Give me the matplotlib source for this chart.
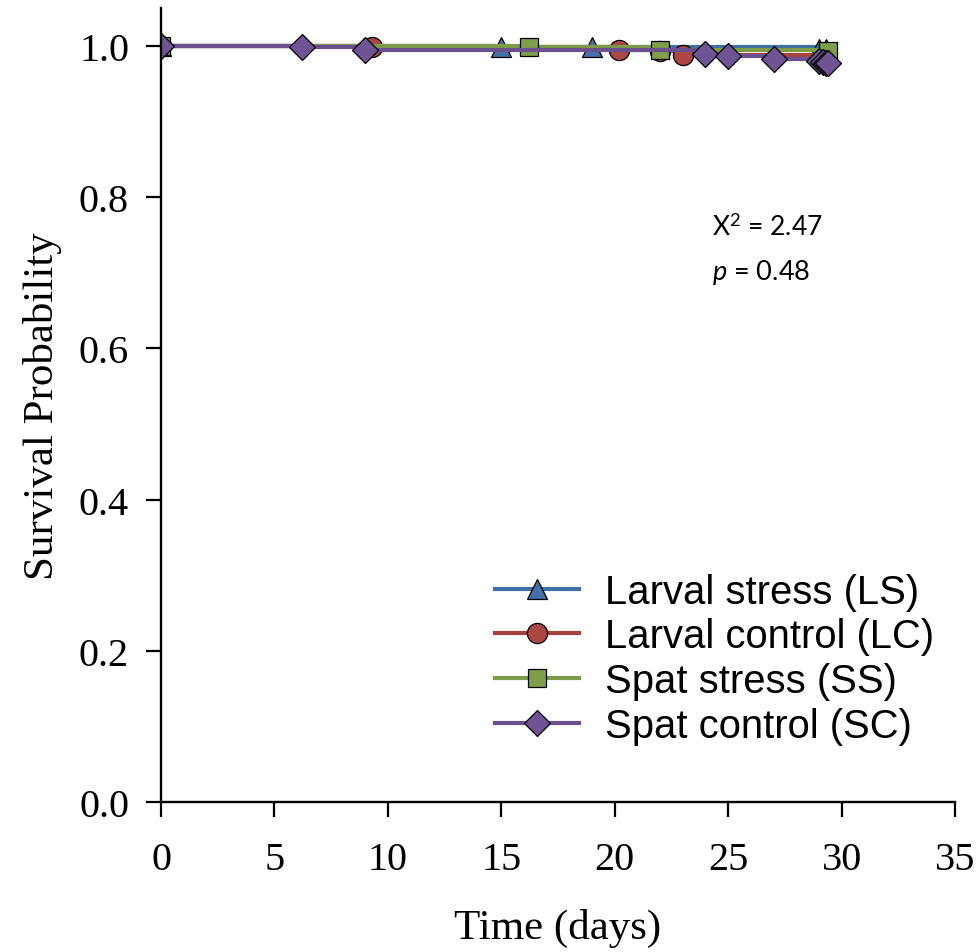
import numpy as np
import matplotlib.pyplot as plt

plt.rcParams['mathtext.fontset'] = 'custom'
plt.rcParams['mathtext.rm'] = 'Lato'
plt.rcParams['mathtext.it'] = 'Lato:italic'

# survival curves (time in days, survival probability)
ls_t = [0, 15.0, 19.0, 29.0, 29.3]
ls_s = [1.0, 0.999, 0.998, 0.996, 0.996]
lc_t = [0, 9.3, 20.2, 22.0, 23.0, 29.3]
lc_s = [1.0, 0.998, 0.995, 0.993, 0.988, 0.986]
ss_t = [0, 16.2, 22.0, 29.4]
ss_s = [1.0, 0.998, 0.995, 0.993]
sc_t = [0, 6.2, 9.0, 24.0, 25.0, 27.0, 29.0, 29.2, 29.3, 29.4]
sc_s = [1.0, 0.999, 0.994, 0.990, 0.987, 0.983, 0.980, 0.979, 0.978, 0.977]

labels = ['Larval stress (LS)', 'Larval control (LC)', 'Spat stress (SS)', 'Spat control (SC)']
xticks = [0, 5, 10, 15, 20, 25, 30, 35]
yticks = [0.0, 0.2, 0.4, 0.6, 0.8, 1.0]

fig = plt.figure(figsize=(9.79, 9.53), dpi=100)
ax = fig.add_axes([0.1645, 0.1574, 0.811, 0.833])

series = [
    (ls_t, ls_s, '#3F6FA5', '#4472A8', '^', 14),
    (lc_t, lc_s, '#A8423F', '#AA4643', 'o', 14.5),
    (ss_t, ss_s, '#7E9C48', '#809E4A', 's', 13),
    (sc_t, sc_s, '#6B5090', '#6F5495', 'D', 13.5),
]
for (t, s, lc, fc, m, ms), lab in zip(series, labels):
    ax.plot(t, s, drawstyle='steps-post', color=lc, lw=3.0, marker=m,
            markersize=ms, markerfacecolor=fc,
            markeredgecolor='black', markeredgewidth=0.9, label=lab)

ax.set_xlim(0, 35)
ax.set_ylim(0, 1.05)
ax.set_xticks(xticks)
ax.set_yticks(yticks)
ax.set_yticklabels(['%.1f' % v for v in yticks])
for sp in ['top', 'right']:
    ax.spines[sp].set_visible(False)
ax.spines['left'].set_linewidth(1.7)
ax.spines['bottom'].set_linewidth(1.7)
ax.tick_params(direction='out', length=11, width=1.6, labelsize=29)
ax.tick_params(axis='y', pad=12)
ax.tick_params(axis='x', pad=17)
for lb in ax.get_xticklabels() + ax.get_yticklabels():
    lb.set_family('Liberation Serif')
ax.set_xlabel('Time (days)', fontsize=31, family='Liberation Serif', labelpad=22)
ax.set_ylabel('Survival Probability', fontsize=31, family='Liberation Serif', labelpad=12)

ax.text(24.3, 0.761, 'X$^2$ = 2.47', fontsize=19, family='Lato', va='center')
ax.text(24.3, 0.702, '$p$ = 0.48', fontsize=19.5, family='Lato', va='center')

ax.legend(loc='upper left', bbox_to_anchor=(0.4207, 0.289), frameon=False,
          prop={'family': 'Liberation Sans', 'size': 28.8}, handlelength=2.1,
          handletextpad=0.66, labelspacing=0.17, borderpad=0, borderaxespad=0)

fig.savefig('out.png', dpi=100)
